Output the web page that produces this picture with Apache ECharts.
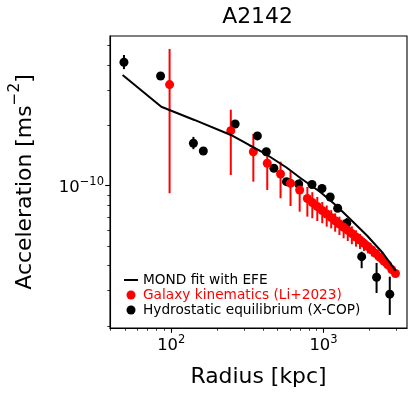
<!DOCTYPE html>
<html>
<head>
<meta charset="utf-8">
<script src="https://cdn.jsdelivr.net/npm/echarts@6/dist/echarts.min.js"></script>
<style>html,body{margin:0;padding:0;background:#fff}#c{width:418px;height:398px}</style>
</head>
<body>
<div id="c"></div>
<script>
// MOND fit with EFE
const mondR = [47.9, 86.0, 141.9, 246.3, 324.2, 416.7, 571, 704.7, 951.7, 1210, 1494, 1928, 2452, 2981];
const mondA = [3.56e-10, 2.475e-10, 2.126e-10, 1.789e-10, 1.595e-10, 1.439e-10, 1.232e-10, 1.092e-10, 9.30e-11, 7.97e-11, 6.82e-11, 5.65e-11, 4.62e-11, 3.76e-11];

// Galaxy kinematics (Li+2023)
const redR = [97.5, 246, 346, 427, 522, 607, 697, 783, 844, 910, 981, 1049, 1123, 1192, 1272, 1355, 1443, 1535, 1634, 1736, 1844, 1957, 2078, 2207, 2344, 2489, 2642, 2806, 2967];
const redA = [3.19e-10, 1.88e-10, 1.477e-10, 1.293e-10, 1.144e-10, 1.028e-10, 9.52e-11, 8.63e-11, 8.25e-11, 7.88e-11, 7.52e-11, 7.23e-11, 6.94e-11, 6.69e-11, 6.44e-11, 6.21e-11, 5.99e-11, 5.77e-11, 5.55e-11, 5.36e-11, 5.16e-11, 4.98e-11, 4.78e-11, 4.59e-11, 4.40e-11, 4.21e-11, 4.03e-11, 3.82e-11, 3.65e-11];
const redLow = [9.17e-11, 1.13e-10, 1.047e-10, 9.52e-11, 8.66e-11, 7.92e-11, 7.42e-11, 7.01e-11, 6.88e-11, 6.67e-11, 6.50e-11, 6.25e-11, 6.13e-11, 5.90e-11, 5.68e-11, 5.47e-11, 5.30e-11, 5.11e-11, 4.97e-11, 4.84e-11, 4.73e-11, 4.60e-11, 4.44e-11, 4.29e-11, 4.14e-11, 3.98e-11, 3.82e-11, 3.65e-11, 3.51e-11];
const redHigh = [4.80e-10, 2.39e-10, 1.81e-10, 1.54e-10, 1.317e-10, 1.18e-10, 1.08e-10, 9.85e-11, 9.28e-11, 8.79e-11, 8.29e-11, 7.97e-11, 7.55e-11, 7.28e-11, 7.01e-11, 6.77e-11, 6.51e-11, 6.27e-11, 5.99e-11, 5.75e-11, 5.48e-11, 5.27e-11, 5.04e-11, 4.82e-11, 4.60e-11, 4.38e-11, 4.19e-11, 3.95e-11, 3.76e-11];

// Hydrostatic equilibrium (X-COP)
const xcopR = [48.9, 85.1, 139.8, 162.4, 262.7, 367.8, 421, 471.9, 571, 687, 840, 977, 1106, 1238, 1421, 1780, 2230, 2723];
const xcopA = [4.12e-10, 3.52e-10, 1.627e-10, 1.489e-10, 2.03e-10, 1.77e-10, 1.477e-10, 1.221e-10, 1.047e-10, 1.02e-10, 1.014e-10, 9.68e-11, 8.78e-11, 7.72e-11, 6.50e-11, 4.43e-11, 3.50e-11, 2.88e-11];
const xcopLow = [3.81e-10, 3.40e-10, 1.52e-10, 1.45e-10, 1.97e-10, 1.72e-10, 1.44e-10, 1.19e-10, 1.02e-10, 9.9e-11, 9.85e-11, 9.4e-11, 8.5e-11, 7.45e-11, 6.02e-11, 3.88e-11, 2.92e-11, 2.27e-11];
const xcopHigh = [4.48e-10, 3.64e-10, 1.75e-10, 1.53e-10, 2.09e-10, 1.82e-10, 1.52e-10, 1.25e-10, 1.075e-10, 1.05e-10, 1.045e-10, 9.95e-11, 9.05e-11, 8.0e-11, 6.90e-11, 4.69e-11, 4.12e-11, 3.52e-11];

// ticks
const xMajor = [100, 1000];
const xMajorLabels = ['2', '3'];
const xMinor = [40, 50, 60, 70, 80, 90, 200, 300, 400, 500, 600, 700, 800, 900, 2000, 3000];
const yMajor = [1e-10];
const yMajorLabels = ['\u221210'];
const yMinor = [2e-11, 3e-11, 4e-11, 5e-11, 6e-11, 7e-11, 8e-11, 9e-11, 2e-10, 3e-10, 4e-10, 5e-10];

const xMin = 39.6, xMax = 3533, yMin = 1.954e-11, yMax = 5.57e-10;

const FONT = 'DejaVu Sans';
const zip3 = (a, b, c) => a.map((v, i) => [v, b[i], c[i]]);
const zip2 = (a, b) => a.map((v, i) => [v, b[i]]);

function errRender(color) {
  return function (params, api) {
    const p1 = api.coord([api.value(0), api.value(1)]);
    const p2 = api.coord([api.value(0), api.value(2)]);
    return { type: 'line', shape: { x1: p1[0], y1: p1[1], x2: p2[0], y2: p2[1] },
             style: { stroke: color, lineWidth: 2 } };
  };
}

const supRich = {
  b: { fontSize: 16.4, fontFamily: FONT, color: '#000', lineHeight: 20, verticalAlign: 'bottom' },
  s: { fontSize: 11.5, fontFamily: FONT, color: '#000', lineHeight: 10, verticalAlign: 'top' }
};

const chart = echarts.init(document.getElementById('c'), null, { renderer: 'canvas' });
chart.setOption({
  animation: false,
  backgroundColor: '#fff',
  title: {
    text: 'A2142', left: 257.5, top: 6, textAlign: 'center', padding: 0,
    textStyle: { fontFamily: FONT, fontSize: 21.9, fontWeight: 'normal', color: '#000' }
  },
  grid: { left: 108, right: 11, top: 36, bottom: 70, show: true, borderColor: '#000', borderWidth: 1.1, containLabel: false },
  legend: {
    orient: 'vertical', left: 123, top: 273, itemWidth: 14, itemHeight: 9, itemGap: 1, padding: 0,
    textStyle: { fontFamily: FONT, fontSize: 13.7, color: '#000' },
    data: [
      { name: 'MOND fit with EFE', itemStyle: { color: 'rgba(0,0,0,0)', borderWidth: 0, opacity: 0 } },
      { name: 'Galaxy kinematics (Li+2023)', textStyle: { color: '#ff0000' } },
      { name: 'Hydrostatic equilibrium (X-COP)' }
    ]
  },
  xAxis: [
    {
      type: 'log', logBase: 10, min: xMin, max: xMax, position: 'bottom', offset: 0,
      name: 'Radius [kpc]', nameLocation: 'middle', nameGap: 38,
      nameTextStyle: { fontFamily: FONT, fontSize: 21.9, color: '#000' },
      axisLine: { show: true, lineStyle: { color: '#000', width: 1.1 } },
      axisTick: { show: true, length: 4.8, lineStyle: { color: '#000', width: 1.1 }, customValues: xMajor },
      axisLabel: {
        show: true, margin: 6, customValues: xMajor,
        formatter: v => '{b|10}{s|' + xMajorLabels[xMajor.indexOf(Math.round(v))] + '}',
        rich: supRich
      },
      splitLine: { show: false }, minorTick: { show: false }
    },
    {
      type: 'log', logBase: 10, min: xMin, max: xMax, position: 'bottom', offset: 0,
      axisLine: { show: false },
      axisTick: { show: true, length: 2.7, lineStyle: { color: '#000', width: 0.8 }, customValues: xMinor },
      axisLabel: { show: false },
      splitLine: { show: false }
    }
  ],
  yAxis: [
    {
      type: 'log', logBase: 10, min: yMin, max: yMax, position: 'left', offset: 0,
      name: '{b|Acceleration [ms}{s|\u22122}{b|]}', nameLocation: 'middle', nameGap: 74, nameRotate: 90,
      nameTextStyle: {
        rich: {
          b: { fontFamily: FONT, fontSize: 21.9, color: '#000', lineHeight: 28, verticalAlign: 'bottom' },
          s: { fontFamily: FONT, fontSize: 15.3, color: '#000', lineHeight: 14, verticalAlign: 'top' }
        }
      },
      axisLine: { show: true, lineStyle: { color: '#000', width: 1.1 } },
      axisTick: { show: true, length: 4.8, lineStyle: { color: '#000', width: 1.1 }, customValues: yMajor },
      axisLabel: {
        show: true, margin: 6, customValues: yMajor,
        formatter: v => '{b|10}{s|' + yMajorLabels[0] + '}',
        rich: supRich
      },
      splitLine: { show: false }
    },
    {
      type: 'log', logBase: 10, min: yMin, max: yMax, position: 'left', offset: 0,
      axisLine: { show: false },
      axisTick: { show: true, length: 2.7, lineStyle: { color: '#000', width: 0.8 }, customValues: yMinor },
      axisLabel: { show: false },
      splitLine: { show: false }
    }
  ],
  series: [
    {
      name: 'xcopErr', type: 'custom', xAxisIndex: 0, yAxisIndex: 0,
      renderItem: errRender('#000'), encode: { x: 0, y: [1, 2] },
      data: zip3(xcopR, xcopLow, xcopHigh), silent: true
    },
    {
      name: 'Hydrostatic equilibrium (X-COP)', type: 'scatter', xAxisIndex: 0, yAxisIndex: 0,
      symbol: 'circle', symbolSize: 9, itemStyle: { color: '#000', opacity: 1 },
      data: zip2(xcopR, xcopA)
    },
    {
      name: 'redErr', type: 'custom', xAxisIndex: 0, yAxisIndex: 0,
      renderItem: errRender('#ff0000'), encode: { x: 0, y: [1, 2] },
      data: zip3(redR, redLow, redHigh), silent: true
    },
    {
      name: 'Galaxy kinematics (Li+2023)', type: 'scatter', xAxisIndex: 0, yAxisIndex: 0,
      symbol: 'circle', symbolSize: 9, itemStyle: { color: '#ff0000', opacity: 1 },
      data: zip2(redR, redA)
    },
    {
      name: 'MOND fit with EFE', type: 'line', xAxisIndex: 0, yAxisIndex: 0,
      symbol: 'none', showSymbol: false, lineStyle: { color: '#000', width: 2 }, itemStyle: { color: '#000' },
      data: zip2(mondR, mondA)
    }
  ]
});
</script>
</body>
</html>
